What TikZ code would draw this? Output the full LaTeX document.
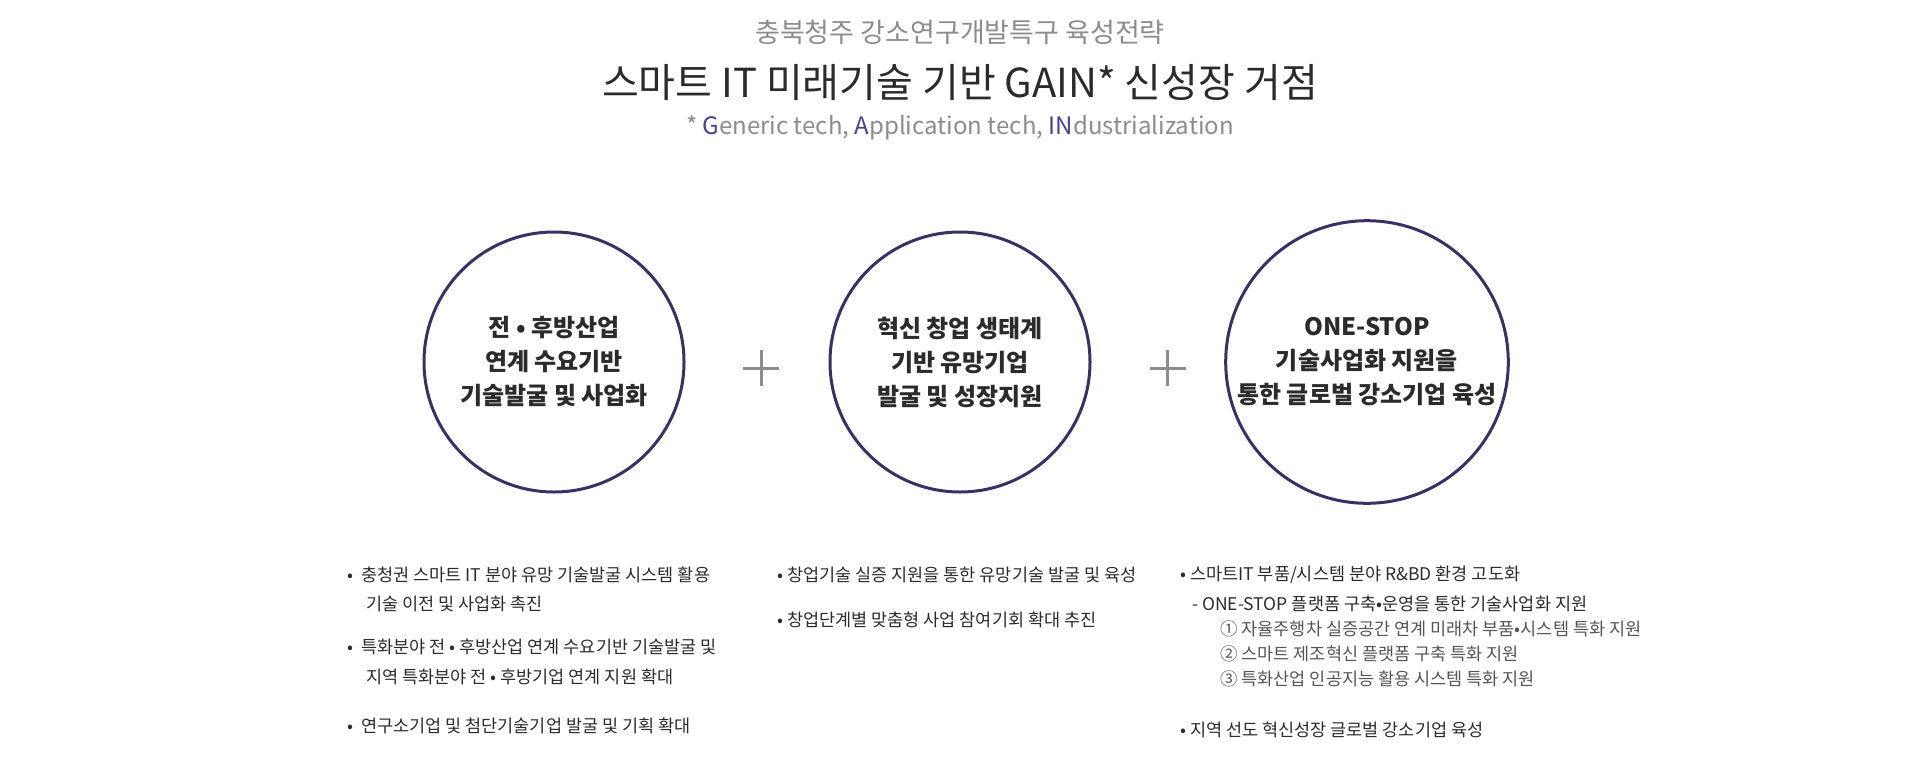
\documentclass[tikz,border=0pt]{standalone}
\usepackage{fontspec}
\usetikzlibrary{calc}
\setmainfont{Noto Sans CJK KR}
\definecolor{ringc}{HTML}{3B2F63}
\definecolor{gainc}{HTML}{4B3F8F}
\definecolor{greyc}{HTML}{8C8C8C}
\definecolor{textc}{HTML}{2B2B2B}
\tikzset{
  ring/.style={circle, draw=ringc, line width=3pt, minimum size=260pt, align=center,
    font=\fontsize{24pt}{34pt}\selectfont\bfseries, text=textc},
  plus/.style={greyc, line width=3pt},
  item/.style={anchor=west, inner sep=0pt, font=\fontsize{17.5pt}{20pt}\selectfont, text=textc},
  subitem/.style={item, text=textc!80},
}
\begin{document}
\begin{tikzpicture}[x=1pt,y=-1pt]
\useasboundingbox (0,0) rectangle (1920,769);
\node (head) at (960,32) {\fontsize{27pt}{30pt}\selectfont\color{greyc}충북청주 강소연구개발특구 육성전략};
\node (title) at (960,83) {\fontsize{40pt}{44pt}\selectfont\color{textc}스마트 IT 미래기술 기반 GAIN* 신성장 거점};
\node (note) at (960,128) {\fontsize{24pt}{28pt}\selectfont\color{greyc}* \textcolor{gainc}{G}eneric tech, \textcolor{gainc}{A}pplication tech, \textcolor{gainc}{IN}dustrialization};
%
\node[ring] (c1) at (554,362) {전 • 후방산업\\연계 수요기반\\기술발굴 및 사업화};
\node[ring] (c2) at (960,362) {혁신 창업 생태계\\기반 유망기업\\발굴 및 성장지원};
\node[ring] (c3) at (1367,362) {ONE-STOP\\기술사업화 지원을\\통한 글로벌 강소기업 육성};
%
\coordinate (p1) at ($(c1)!0.5!(c2)+(4,6)$);
\coordinate (p2) at ($(c2)!0.5!(c3)+(4,6)$);
\foreach \p in {p1,p2}{
  \draw[plus] ($(\p)+(-18,0)$) -- ($(\p)+(18,0)$);
  \draw[plus] ($(\p)+(0,-18)$) -- ($(\p)+(0,18)$);
}
% left list
\node[item] (l1) at (347,575) {•\hspace{8pt}충청권 스마트 IT 분야 유망 기술발굴 시스템 활용};
\node[item] (l1b) at (366,604) {기술 이전 및 사업화 촉진};
\node[item] (l2) at (347,647) {•\hspace{8pt}특화분야 전 • 후방산업 연계 수요기반 기술발굴 및};
\node[item] (l2b) at (366,677) {지역 특화분야 전 • 후방기업 연계 지원 확대};
\node[item] (l3) at (347,726) {•\hspace{8pt}연구소기업 및 첨단기술기업 발굴 및 기획 확대};
% middle list
\node[item] (m1) at (777,575) {• 창업기술 실증 지원을 통한 유망기술 발굴 및 육성};
\node[item] (m2) at (777,620) {• 창업단계별 맞춤형 사업 참여기회 확대 추진};
% right list
\node[item] (r1) at (1180,575) {• 스마트IT 부품/시스템 분야 R\&BD 환경 고도화};
\node[item] (r2) at (1192,604) {- ONE-STOP 플랫폼 구축•운영을 통한 기술사업화 지원};
\node[subitem] (r3) at (1220,629) {① 자율주행차 실증공간 연계 미래차 부품•시스템 특화 지원};
\node[subitem] (r4) at (1220,654) {② 스마트 제조혁신 플랫폼 구축 특화 지원};
\node[subitem] (r5) at (1220,679) {③ 특화산업 인공지능 활용 시스템 특화 지원};
\node[item] (r6) at (1180,730) {• 지역 선도 혁신성장 글로벌 강소기업 육성};
\end{tikzpicture}
\end{document}
